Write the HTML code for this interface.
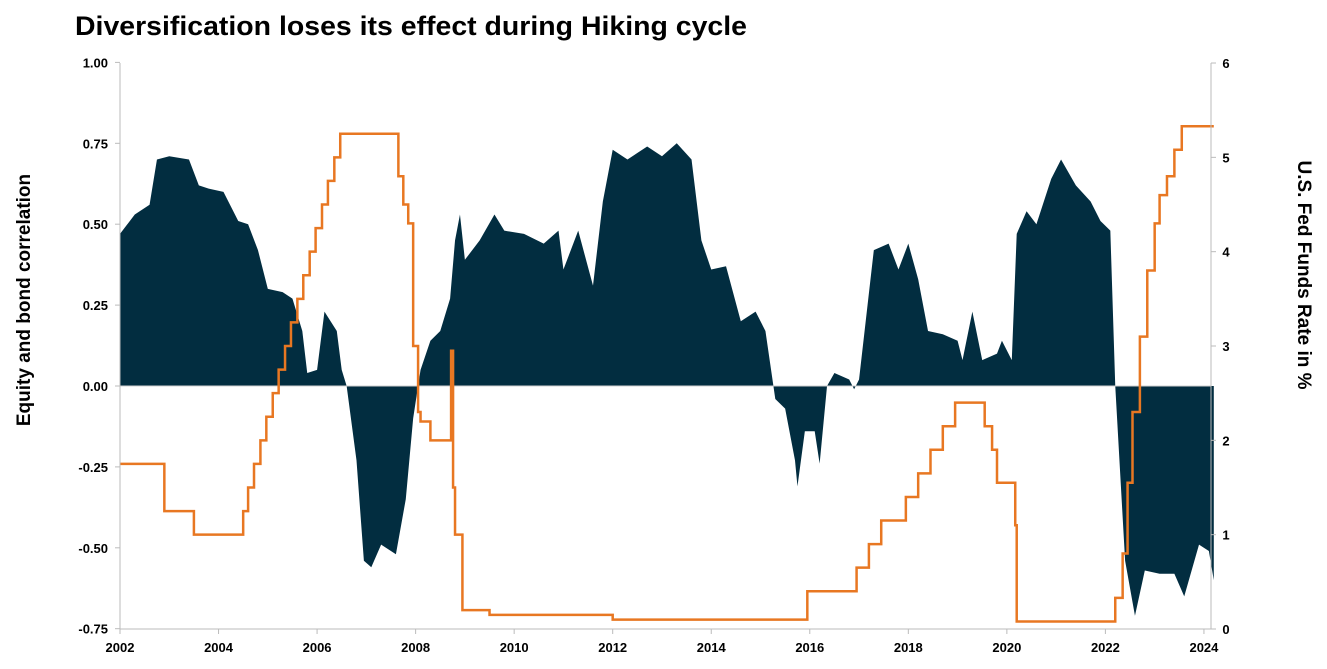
<!DOCTYPE html>
<html><head><meta charset="utf-8"><style>
body{margin:0;background:#fff;}
svg{display:block;font-family:"Liberation Sans",sans-serif;}
</style></head><body>
<svg id="chart" width="1327" height="669">
<text x="75" y="35" font-size="27" font-weight="bold" textLength="672" lengthAdjust="spacingAndGlyphs">Diversification loses its effect during Hiking cycle</text>
<text transform="translate(30,300) rotate(-90)" text-anchor="middle" font-size="19" font-weight="bold">Equity and bond correlation</text>
<text transform="translate(1298,275) rotate(90)" text-anchor="middle" font-size="19" font-weight="bold">U.S. Fed Funds Rate in %</text>
<g id="plot"></g>
</svg>
<script>
const corrDates=[2002.0,2002.3,2002.6,2002.75,2003.0,2003.4,2003.6,2003.8,2004.1,2004.4,2004.6,2004.8,2005.0,2005.3,2005.5,2005.7,2005.8,2006.0,2006.15,2006.4,2006.5,2006.6,2006.8,2006.95,2007.1,2007.3,2007.6,2007.8,2007.95,2008.1,2008.3,2008.5,2008.7,2008.8,2008.9,2009.0,2009.3,2009.6,2009.8,2010.2,2010.6,2010.9,2011.0,2011.3,2011.6,2011.8,2012.0,2012.3,2012.7,2013.0,2013.3,2013.6,2013.8,2014.0,2014.3,2014.6,2014.9,2015.1,2015.3,2015.5,2015.7,2015.75,2015.9,2016.1,2016.2,2016.35,2016.5,2016.8,2016.9,2017.0,2017.3,2017.6,2017.8,2018.0,2018.2,2018.4,2018.7,2019.0,2019.1,2019.3,2019.5,2019.8,2019.9,2020.1,2020.2,2020.4,2020.6,2020.9,2021.1,2021.4,2021.7,2021.9,2022.1,2022.2,2022.4,2022.6,2022.8,2023.1,2023.4,2023.6,2023.9,2024.1,2024.2];
const corrValues=[0.47,0.53,0.56,0.70,0.71,0.70,0.62,0.61,0.60,0.51,0.50,0.42,0.30,0.29,0.27,0.17,0.04,0.05,0.23,0.17,0.05,0,-0.23,-0.54,-0.56,-0.49,-0.52,-0.35,-0.10,0.05,0.14,0.17,0.27,0.45,0.53,0.39,0.45,0.53,0.48,0.47,0.44,0.48,0.36,0.48,0.31,0.57,0.73,0.70,0.74,0.71,0.75,0.70,0.45,0.36,0.37,0.20,0.23,0.17,-0.04,-0.07,-0.23,-0.31,-0.14,-0.14,-0.24,0,0.04,0.02,-0.01,0.02,0.42,0.44,0.36,0.44,0.33,0.17,0.16,0.14,0.08,0.23,0.08,0.10,0.14,0.08,0.47,0.54,0.50,0.64,0.70,0.62,0.57,0.51,0.48,0,-0.54,-0.71,-0.57,-0.58,-0.58,-0.65,-0.49,-0.51,-0.60];
const fedDates=[2002.0,2002.9,2003.5,2004.5,2004.6,2004.72,2004.85,2004.97,2005.1,2005.22,2005.35,2005.47,2005.6,2005.72,2005.85,2005.97,2006.1,2006.22,2006.35,2006.47,2007.65,2007.75,2007.85,2007.95,2008.05,2008.1,2008.3,2008.72,2008.76,2008.8,2008.95,2009.5,2012.0,2015.95,2016.95,2017.2,2017.45,2017.95,2018.2,2018.45,2018.7,2018.95,2019.55,2019.7,2019.8,2020.17,2020.2,2022.2,2022.35,2022.45,2022.55,2022.7,2022.85,2023.0,2023.1,2023.25,2023.4,2023.55,2024.2];
const fedValues=[1.75,1.25,1.0,1.25,1.5,1.75,2.0,2.25,2.5,2.75,3.0,3.25,3.5,3.75,4.0,4.25,4.5,4.75,5.0,5.25,4.8,4.5,4.3,3.0,2.3,2.2,2.0,2.95,1.5,1.0,0.2,0.15,0.1,0.4,0.65,0.9,1.15,1.4,1.65,1.9,2.15,2.4,2.15,1.9,1.55,1.1,0.08,0.33,0.8,1.55,2.3,3.1,3.8,4.3,4.6,4.8,5.08,5.33,5.33];
const leftTicks=[1.00,0.75,0.50,0.25,0.00,-0.25,-0.50,-0.75];
const rightTicks=[0,1,2,3,4,5,6];
const yearTicks=[2002,2004,2006,2008,2010,2012,2014,2016,2018,2020,2022,2024];

const X=t=>120+(t-2002)*49.27;
const YL=v=>386-v*323.6;
const YR=v=>629-v*94.33;
const NS="http://www.w3.org/2000/svg";
const g=document.getElementById('plot');
function mk(tag,attrs){const e=document.createElementNS(NS,tag);for(const k in attrs)e.setAttribute(k,attrs[k]);g.appendChild(e);return e;}

let d=`M${X(corrDates[0])},${YL(0)}`;
corrDates.forEach((t,i)=>{d+=` L${X(t)},${YL(corrValues[i])}`;});
d+=` L${X(corrDates[corrDates.length-1])},${YL(0)} Z`;
const area=mk('path',{d:d,fill:'#022d40'});



const zl=mk('line',{x1:120,x2:1211,y1:YL(0),y2:YL(0),stroke:'#d0d0d0','stroke-width':1});



let f=`M${X(fedDates[0])},${YR(fedValues[0])}`;
for(let i=1;i<fedDates.length;i++){f+=` L${X(fedDates[i])},${YR(fedValues[i-1])} L${X(fedDates[i])},${YR(fedValues[i])}`;}
const fl=mk('path',{d:f,fill:'none',stroke:'#e87722','stroke-width':2.5});



const la=mk('line',{x1:120,x2:120,y1:63,y2:629,stroke:'#bbb'});


const ra=mk('line',{x1:1211,x2:1211,y1:63,y2:629,stroke:'#bbb'});


const ba=mk('line',{x1:120,x2:1211,y1:629,y2:629,stroke:'#bbb'});



leftTicks.forEach(v=>{
  const t=mk('text',{x:108,y:YL(v)+5,'text-anchor':'end','font-size':13,'font-weight':'bold'});
  t.textContent=v.toFixed(2);
  
  
  mk('line',{x1:115,x2:120,y1:YL(v),y2:YL(v),stroke:'#bbb'});
});
rightTicks.forEach(v=>{
  const t=mk('text',{x:1226,y:YR(v)+5,'text-anchor':'middle','font-size':13,'font-weight':'bold'});
  t.textContent=v;
  
  
  mk('line',{x1:1211,x2:1216,y1:YR(v),y2:YR(v),stroke:'#bbb'});
});
yearTicks.forEach(y=>{
  const t=mk('text',{x:X(y),y:652,'text-anchor':'middle','font-size':13,'font-weight':'bold'});
  t.textContent=y;
  
  
  mk('line',{x1:X(y),x2:X(y),y1:629,y2:634,stroke:'#bbb'});
});
</script>
</body></html>
